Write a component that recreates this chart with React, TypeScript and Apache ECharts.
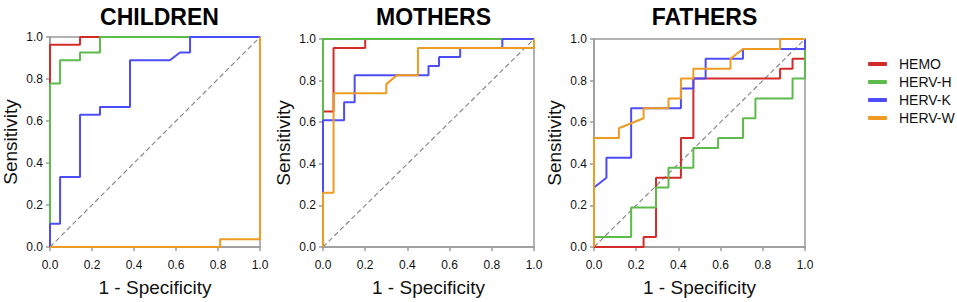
import React, { useEffect, useRef } from "react";
import * as echarts from "echarts";

// ---- Data: ROC curves as [1 - specificity, sensitivity] points ----
const PANELS = ["CHILDREN", "MOTHERS", "FATHERS"];
const SERIES_NAMES = ["HEMO", "HERV-H", "HERV-K", "HERV-W"];
const COLORS = ["#d42a2a", "#5dbb4c", "#4d4df7", "#ef9a23"];
const TICKS = [0, 0.2, 0.4, 0.6, 0.8, 1.0];

const CHILDREN_HEMO = [[0, 0], [0, 0.963], [0.143, 0.963], [0.143, 1], [1, 1]];
const CHILDREN_HERVH = [[0, 0], [0, 0.778], [0.048, 0.778], [0.048, 0.889], [0.143, 0.889], [0.143, 0.926], [0.238, 0.926], [0.238, 1], [1, 1]];
const CHILDREN_HERVK = [[0, 0], [0, 0.111], [0.048, 0.111], [0.048, 0.333], [0.143, 0.333], [0.143, 0.63], [0.238, 0.63], [0.238, 0.667], [0.381, 0.667], [0.381, 0.889], [0.571, 0.889], [0.619, 0.926], [0.667, 0.926], [0.667, 1], [1, 1]];
const CHILDREN_HERVW = [[0, 0], [0.81, 0], [0.81, 0.037], [1, 0.037], [1, 1]];

const MOTHERS_HEMO = [[0, 0], [0, 0.652], [0.05, 0.652], [0.05, 0.957], [0.2, 0.957], [0.2, 1], [1, 1]];
const MOTHERS_HERVH = [[0, 0], [0, 1], [1, 1]];
const MOTHERS_HERVK = [[0, 0], [0, 0.609], [0.1, 0.609], [0.1, 0.696], [0.15, 0.696], [0.15, 0.826], [0.5, 0.826], [0.5, 0.87], [0.55, 0.87], [0.55, 0.913], [0.65, 0.913], [0.65, 0.957], [0.85, 0.957], [0.85, 1], [1, 1]];
const MOTHERS_HERVW = [[0, 0], [0, 0.261], [0.05, 0.261], [0.05, 0.739], [0.3, 0.739], [0.3, 0.783], [0.35, 0.826], [0.45, 0.826], [0.45, 0.957], [1, 0.957], [1, 1]];

const FATHERS_HEMO = [[0, 0], [0.235, 0], [0.235, 0.048], [0.294, 0.048], [0.294, 0.333], [0.412, 0.333], [0.412, 0.524], [0.471, 0.524], [0.471, 0.81], [0.882, 0.81], [0.882, 0.857], [0.941, 0.857], [0.941, 0.905], [1, 0.905], [1, 1]];
const FATHERS_HERVH = [[0, 0], [0, 0.048], [0.176, 0.048], [0.176, 0.19], [0.294, 0.19], [0.294, 0.286], [0.353, 0.286], [0.353, 0.381], [0.471, 0.381], [0.471, 0.476], [0.588, 0.476], [0.588, 0.524], [0.706, 0.524], [0.706, 0.619], [0.765, 0.619], [0.765, 0.714], [0.941, 0.714], [0.941, 0.81], [1, 0.81], [1, 1]];
const FATHERS_HERVK = [[0, 0], [0, 0.286], [0.059, 0.333], [0.059, 0.429], [0.176, 0.429], [0.176, 0.667], [0.412, 0.667], [0.412, 0.762], [0.471, 0.762], [0.471, 0.81], [0.529, 0.81], [0.529, 0.905], [0.706, 0.905], [0.706, 0.952], [1, 0.952], [1, 1]];
const FATHERS_HERVW = [[0, 0], [0, 0.524], [0.118, 0.524], [0.118, 0.571], [0.235, 0.619], [0.235, 0.667], [0.353, 0.667], [0.353, 0.714], [0.412, 0.714], [0.412, 0.81], [0.471, 0.81], [0.471, 0.857], [0.647, 0.857], [0.647, 0.905], [0.706, 0.952], [0.882, 0.952], [0.882, 1], [1, 1]];

const PANEL_DATA = [
  [CHILDREN_HEMO, CHILDREN_HERVH, CHILDREN_HERVK, CHILDREN_HERVW],
  [MOTHERS_HEMO, MOTHERS_HERVH, MOTHERS_HERVK, MOTHERS_HERVW],
  [FATHERS_HEMO, FATHERS_HERVH, FATHERS_HERVK, FATHERS_HERVW],
];
const REFERENCE_LINE = [[0, 0], [1, 1]];

const FONT = "'Liberation Sans', Arial, sans-serif";
const GRIDS = [
  { left: 49, top: 37, width: 211, height: 211 },
  { left: 323, top: 39, width: 211, height: 211 },
  { left: 594, top: 39, width: 211, height: 211 },
];

export default function App() {
  const ref = useRef<HTMLDivElement>(null);
  useEffect(() => {
    if (!ref.current) return;
    const chart = echarts.init(ref.current, undefined, { renderer: "svg" });
    const axisCommon = {
      type: "value",
      min: TICKS[0],
      max: TICKS[TICKS.length - 1],
      interval: 0.2,
      axisLine: { show: true, lineStyle: { color: "#9a9a9a", width: 1.5 } },
      axisTick: { show: true, length: 4, lineStyle: { color: "#9a9a9a", width: 1.5 } },
      splitLine: { show: false },
      nameLocation: "middle",
      nameTextStyle: { fontFamily: FONT, fontSize: 19, color: "#111" },
      axisLabel: {
        fontFamily: FONT,
        fontSize: 12,
        color: "#111",
        formatter: (v: number) => v.toFixed(1),
      },
    };
    const series: any[] = [];
    PANELS.forEach((_, p) => {
      series.push({
        type: "line",
        name: "ref",
        xAxisIndex: p,
        yAxisIndex: p,
        data: REFERENCE_LINE,
        showSymbol: false,
        symbol: "none",
        silent: true,
        lineStyle: { color: "#8a8a8a", width: 1.2, type: [5, 3] },
        z: 1,
      });
      PANEL_DATA[p].forEach((d, s) => {
        series.push({
          type: "line",
          name: SERIES_NAMES[s],
          xAxisIndex: p,
          yAxisIndex: p,
          data: d,
          symbol: "none",
          showSymbol: false,
          clip: false,
          color: COLORS[s],
          lineStyle: { color: COLORS[s], width: 2 },
          z: 2 + s,
        });
      });
    });
    chart.setOption({
      animation: false,
      backgroundColor: "#ffffff",
      title: PANELS.map((t, i) => ({
        text: t,
        left: GRIDS[i].left + GRIDS[i].width / 2,
        top: 0,
        textAlign: "center",
        textStyle: { fontFamily: FONT, fontSize: 23, fontWeight: "bold", color: "#000" },
      })),
      legend: {
        data: SERIES_NAMES,
        orient: "vertical",
        left: 863,
        top: 52,
        itemWidth: 19,
        itemHeight: 4,
        itemGap: 4,
        icon: "roundRect",
        textStyle: { fontFamily: FONT, fontSize: 14, color: "#111", padding: [0, 0, 0, 7] },
      },
      grid: GRIDS.map((g) => ({
        ...g,
        show: true,
        borderColor: "#9a9a9a",
        borderWidth: 1.5,
        containLabel: false,
      })),
      xAxis: GRIDS.map((_, i) => ({
        ...axisCommon,
        gridIndex: i,
        name: "1 - Specificity",
        nameGap: 31,
        axisLabel: { ...axisCommon.axisLabel, margin: 12 },
      })),
      yAxis: GRIDS.map((_, i) => ({
        ...axisCommon,
        gridIndex: i,
        name: "Sensitivity",
        nameGap: 30,
        axisLabel: { ...axisCommon.axisLabel, margin: 7 },
      })),
      series,
    });
    return () => chart.dispose();
  }, []);
  return (
    <div
      ref={ref}
      style={{ position: "fixed", left: 0, top: 0, width: 957, height: 302, background: "#fff" }}
    />
  );
}
